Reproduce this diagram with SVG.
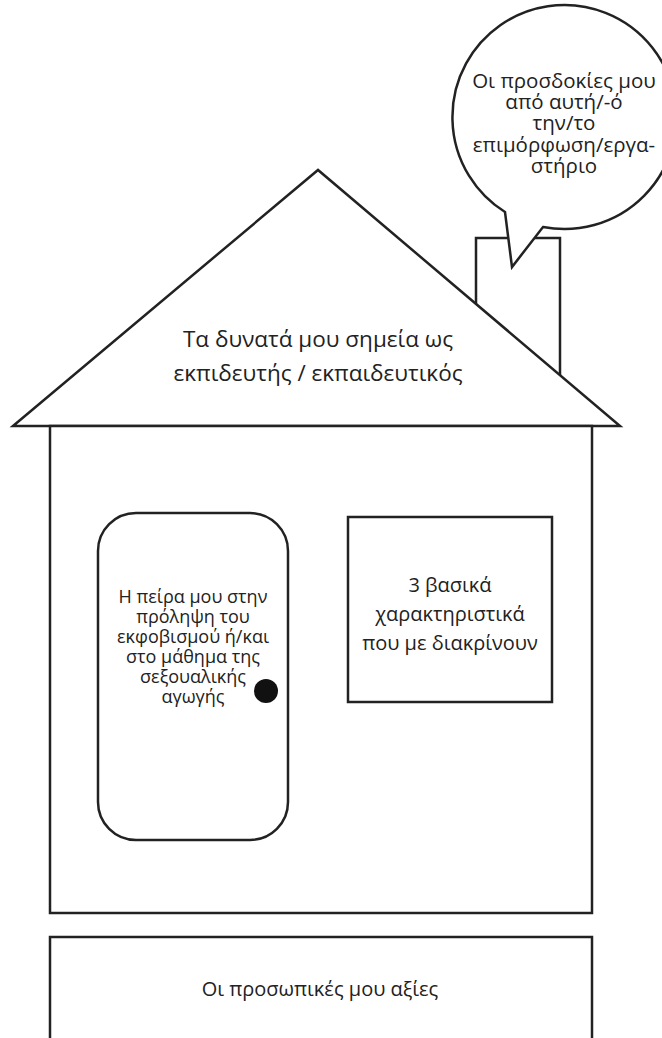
<svg xmlns="http://www.w3.org/2000/svg" width="662" height="1038" viewBox="0 0 662 1038">
<style>
.ln{fill:#fff;stroke:#222;stroke-width:2.5;stroke-linejoin:miter}
.t{font-family:"Open Sans","Noto Sans",sans-serif;fill:#222;text-anchor:middle}
</style>
<rect width="662" height="1038" fill="#fff"/>
<g id="chimney"><rect class="ln" x="476" y="238" width="84" height="200"/></g>
<g id="roof">
<path class="ln" d="M13,426 L318,170 L620,426 Z"/>
<text class="t" font-size="22.5" x="318" y="347">Τα δυνατά μου σημεία ως</text>
<text class="t" font-size="22.5" x="318" y="381">εκπιδευτής / εκπαιδευτικός</text>
</g>
<g id="bubble">
<path class="ln" d="M505,212 A112,112 0 1 1 543,227 L512,267 Z"/>
<text class="t" font-size="20.5" x="564" y="88">Οι προσδοκίες μου</text>
<text class="t" font-size="20.5" x="564" y="109">από αυτή/-ό</text>
<text class="t" font-size="20.5" x="564" y="130">την/το</text>
<text class="t" font-size="20.5" x="564" y="152">επιμόρφωση/εργα-</text>
<text class="t" font-size="20.5" x="564" y="173">στήριο</text>
</g>
<g id="house"><rect class="ln" x="50" y="426" width="542" height="487"/></g>
<g id="door">
<rect class="ln" x="98" y="513" width="190" height="327" rx="38"/>
<circle cx="266" cy="691" r="12" fill="#111"/>
<text class="t" font-size="18" x="193" y="603">Η πείρα μου στην</text>
<text class="t" font-size="18" x="193" y="623">πρόληψη του</text>
<text class="t" font-size="18" x="193" y="643">εκφοβισμού ή/και</text>
<text class="t" font-size="18" x="193" y="663">στο μάθημα της</text>
<text class="t" font-size="18" x="193" y="683">σεξουαλικής</text>
<text class="t" font-size="18" x="193" y="703">αγωγής</text>
</g>
<g id="window">
<rect class="ln" x="348" y="517" width="204" height="185"/>
<text class="t" font-size="20" x="450" y="592">3 βασικά</text>
<text class="t" font-size="20" x="450" y="621">χαρακτηριστικά</text>
<text class="t" font-size="20" x="450" y="650">που με διακρίνουν</text>
</g>
<g id="values">
<rect class="ln" x="50" y="937" width="542" height="120"/>
<text class="t" font-size="20" x="320" y="996">Οι προσωπικές μου αξίες</text>
</g>
<g id="connectors"/>
</svg>
